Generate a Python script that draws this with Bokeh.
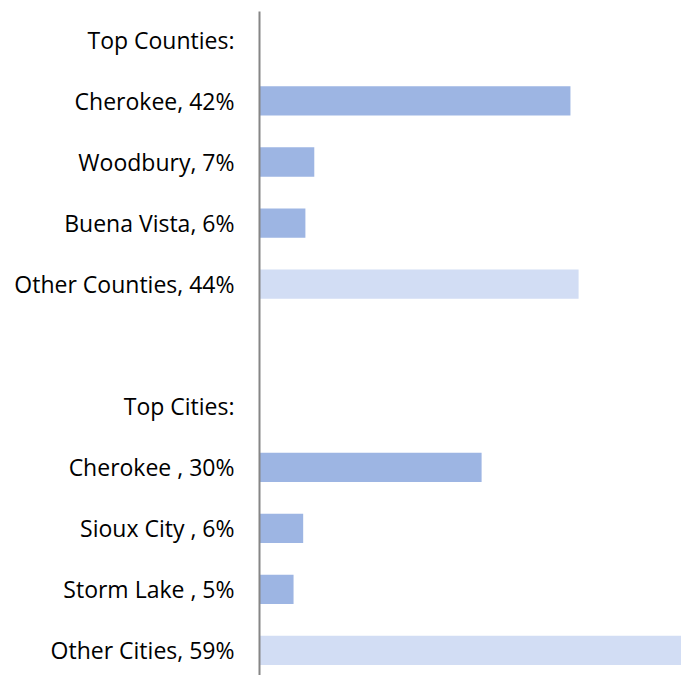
from bokeh.plotting import figure
from bokeh.models import Range1d, FixedTicker, ColumnDataSource
from bokeh.embed import file_html
from bokeh.resources import INLINE

labels = ["Top Counties:", "Cherokee, 42%", "Woodbury, 7%", "Buena Vista, 6%",
          "Other Counties, 44%", "", "Top Cities:", "Cherokee , 30%",
          "Sioux City , 6%", "Storm Lake , 5%", "Other Cities, 59%"]
solid_rows = [1, 2, 3, 7, 8, 9]
solid_vals = [42.0, 7.4, 6.2, 30.0, 5.9, 4.6]
other_rows = [4, 10]
other_vals = [43.1, 59.0]

p = figure(width=681, height=675, output_backend="svg", toolbar_location=None,
           x_range=Range1d(0, 57), y_range=Range1d(10.41, -0.465),
           x_axis_location=None, min_border_left=259, min_border_top=11,
           min_border_right=0, min_border_bottom=0)
p.outline_line_color = None
p.xgrid.visible = False
p.ygrid.visible = False

src1 = ColumnDataSource(dict(y=solid_rows, right=solid_vals))
p.hbar(y="y", left=0, right="right", height=0.48, source=src1,
       fill_color="#9db5e3", line_color=None)
src2 = ColumnDataSource(dict(y=other_rows, right=other_vals))
p.hbar(y="y", left=0, right="right", height=0.48, source=src2,
       fill_color="#d2ddf4", line_color=None,
       hatch_pattern="checker", hatch_color="#a3bae6", hatch_scale=2, hatch_alpha=1.0)

ax = p.yaxis[0]
ax.ticker = FixedTicker(ticks=list(range(len(labels))))
ax.major_label_overrides = {i: t for i, t in enumerate(labels)}
ax.major_tick_line_color = None
ax.minor_tick_line_color = None
ax.major_tick_out = 0
ax.major_tick_in = 0
ax.major_label_standoff = 25
ax.axis_line_color = "#868686"
ax.axis_line_width = 2
ax.major_label_text_font = "Open Sans"
ax.major_label_text_font_size = "23px"
ax.major_label_text_color = "#000000"

open("out.html", "w").write(file_html(p, INLINE))
